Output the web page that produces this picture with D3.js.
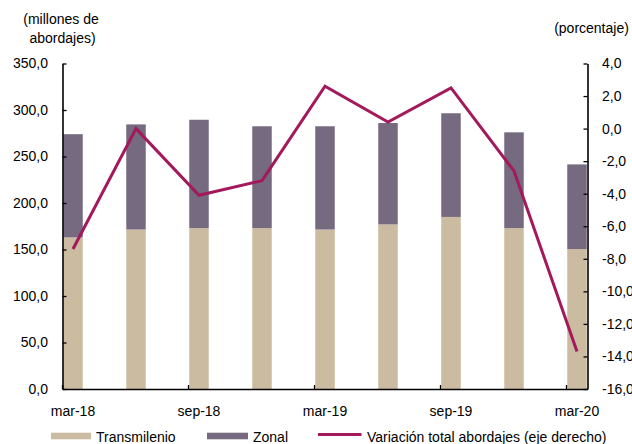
<!DOCTYPE html>
<html>
<head>
<meta charset="utf-8">
<script src="https://cdn.jsdelivr.net/npm/d3@7"></script>
<style>
  body { margin: 0; background: #fff; }
  svg { display: block; font-family: "Liberation Sans", Arial, sans-serif; }
</style>
</head>
<body>
<div id="chart"></div>
<script>
// quarters shown (first month of each bar)
const quarters = ["2018-03", "2018-06", "2018-09", "2018-12", "2019-03", "2019-06", "2019-09", "2019-12", "2020-03"];
// millions of boardings
const transmilenio = [163, 171.5, 173, 173, 171.5, 177, 185, 173, 150.5];
const zonal = [111, 113, 116.5, 109.5, 111, 109, 111.5, 103, 91];
// percent change, right axis
const variacion = [-7.4, 0.0, -4.1, -3.2, 2.6, 0.4, 2.5, -2.6, -13.7];

// tick labels of the date axis
const tickMonths = ["2018-03", "2018-09", "2019-03", "2019-09", "2020-03"];
const tickLabels = ["mar-18", "sep-18", "mar-19", "sep-19", "mar-20"];
const leftTicks = [0, 50, 100, 150, 200, 250, 300, 350];
const rightTicks = [4, 2, 0, -2, -4, -6, -8, -10, -12, -14, -16];

const width = 632;
const height = 444;
const marginTop = 63.5;
const marginBottom = 55;
const marginLeft = 62.5;
const marginRight = 44.5;
const fontSize = 14;

const colTM = "#CBBBA0";
const colZonal = "#756A7F";
const colLine = "#A3195B";

// monthly date axis, like the original spreadsheet chart
const fmt = d3.utcFormat("%Y-%m");
const months = d3.utcMonth.range(new Date(Date.UTC(2018, 2, 1)), new Date(Date.UTC(2020, 3, 1))).map(fmt);

const x = d3.scaleBand()
    .domain(months)
    .range([marginLeft, width - marginRight]);
const bw = x.bandwidth();

const yL = d3.scaleLinear()
    .domain([0, 350])
    .range([height - marginBottom, marginTop]);

const yR = d3.scaleLinear()
    .domain([-16, 4])
    .range([height - marginBottom, marginTop]);

const comma = d => d.toFixed(1).replace(".", ",");

const data = quarters.map((q, i) => ({ q, tm: transmilenio[i], zonal: zonal[i], v: variacion[i] }));

const svg = d3.create("svg")
    .attr("width", width)
    .attr("height", height);

// stacked bars
const bars = svg.append("g");
bars.selectAll("rect.tm")
  .data(data)
  .join("rect")
    .attr("class", "tm")
    .attr("x", d => x(d.q) + 0.75)
    .attr("width", bw - 1.5)
    .attr("y", d => yL(d.tm))
    .attr("height", d => yL(0) - yL(d.tm))
    .attr("fill", colTM);

bars.selectAll("rect.zonal")
  .data(data)
  .join("rect")
    .attr("class", "zonal")
    .attr("x", d => x(d.q) + 0.75)
    .attr("width", bw - 1.5)
    .attr("y", d => yL(d.tm + d.zonal))
    .attr("height", d => yL(d.tm) - yL(d.tm + d.zonal))
    .attr("fill", colZonal);

// left axis
const axL = svg.append("g")
    .attr("transform", `translate(${marginLeft},0)`)
    .call(d3.axisLeft(yL).tickValues(leftTicks).tickSizeInner(-4).tickSizeOuter(0).tickPadding(14.5).tickFormat(comma));

// right axis
const axR = svg.append("g")
    .attr("transform", `translate(${width - marginRight},0)`)
    .call(d3.axisRight(yR).tickValues(rightTicks).tickSizeInner(-4).tickSizeOuter(0).tickPadding(14.5).tickFormat(comma));

// bottom axis: tick marks at month starts, labels centred on the month
const axB = svg.append("g")
    .attr("transform", `translate(0,${height - marginBottom})`)
    .call(d3.axisBottom(x).tickValues(tickMonths).tickSizeInner(-4).tickSizeOuter(0).tickPadding(17)
      .tickFormat((d, i) => tickLabels[i]));
axB.selectAll(".tick line").attr("x1", -bw / 2).attr("x2", -bw / 2);

[axL, axR, axB].forEach(g => {
  g.select(".domain").attr("stroke", "#000").attr("stroke-width", 1.6);
  g.selectAll(".tick line").attr("stroke", "#000").attr("stroke-width", 1.3);
  g.selectAll("text").attr("font-size", fontSize).attr("font-family", "Liberation Sans, Arial, sans-serif").attr("fill", "#000");
});

// variation line on the right axis
const line = d3.line()
    .x(d => x(d.q) + bw / 2)
    .y(d => yR(d.v));

svg.append("path")
    .datum(data)
    .attr("fill", "none")
    .attr("stroke", colLine)
    .attr("stroke-width", 3)
    .attr("d", line);

// axis titles
const t = svg.append("g").attr("font-size", fontSize).attr("fill", "#000");
t.append("text").attr("x", 61).attr("y", 23.5).attr("text-anchor", "middle").text("(millones de");
t.append("text").attr("x", 62.5).attr("y", 42.5).attr("text-anchor", "middle").text("abordajes)");
t.append("text").attr("x", 591.5).attr("y", 33).attr("text-anchor", "middle").text("(porcentaje)");

// legend
const lg = svg.append("g").attr("font-size", fontSize).attr("fill", "#000");
lg.append("rect").attr("x", 51).attr("y", 432.7).attr("width", 40).attr("height", 6.6).attr("fill", colTM);
lg.append("text").attr("x", 96).attr("y", 441.7).text("Transmilenio");
lg.append("rect").attr("x", 207).attr("y", 432.7).attr("width", 41).attr("height", 6.6).attr("fill", colZonal);
lg.append("text").attr("x", 253).attr("y", 441.7).text("Zonal");
lg.append("line").attr("x1", 318).attr("x2", 361.5).attr("y1", 434.5).attr("y2", 434.5)
    .attr("stroke", colLine).attr("stroke-width", 3);
lg.append("text").attr("x", 367).attr("y", 441.7).text("Variación total abordajes (eje derecho)");

document.getElementById("chart").append(svg.node());
</script>
</body>
</html>
